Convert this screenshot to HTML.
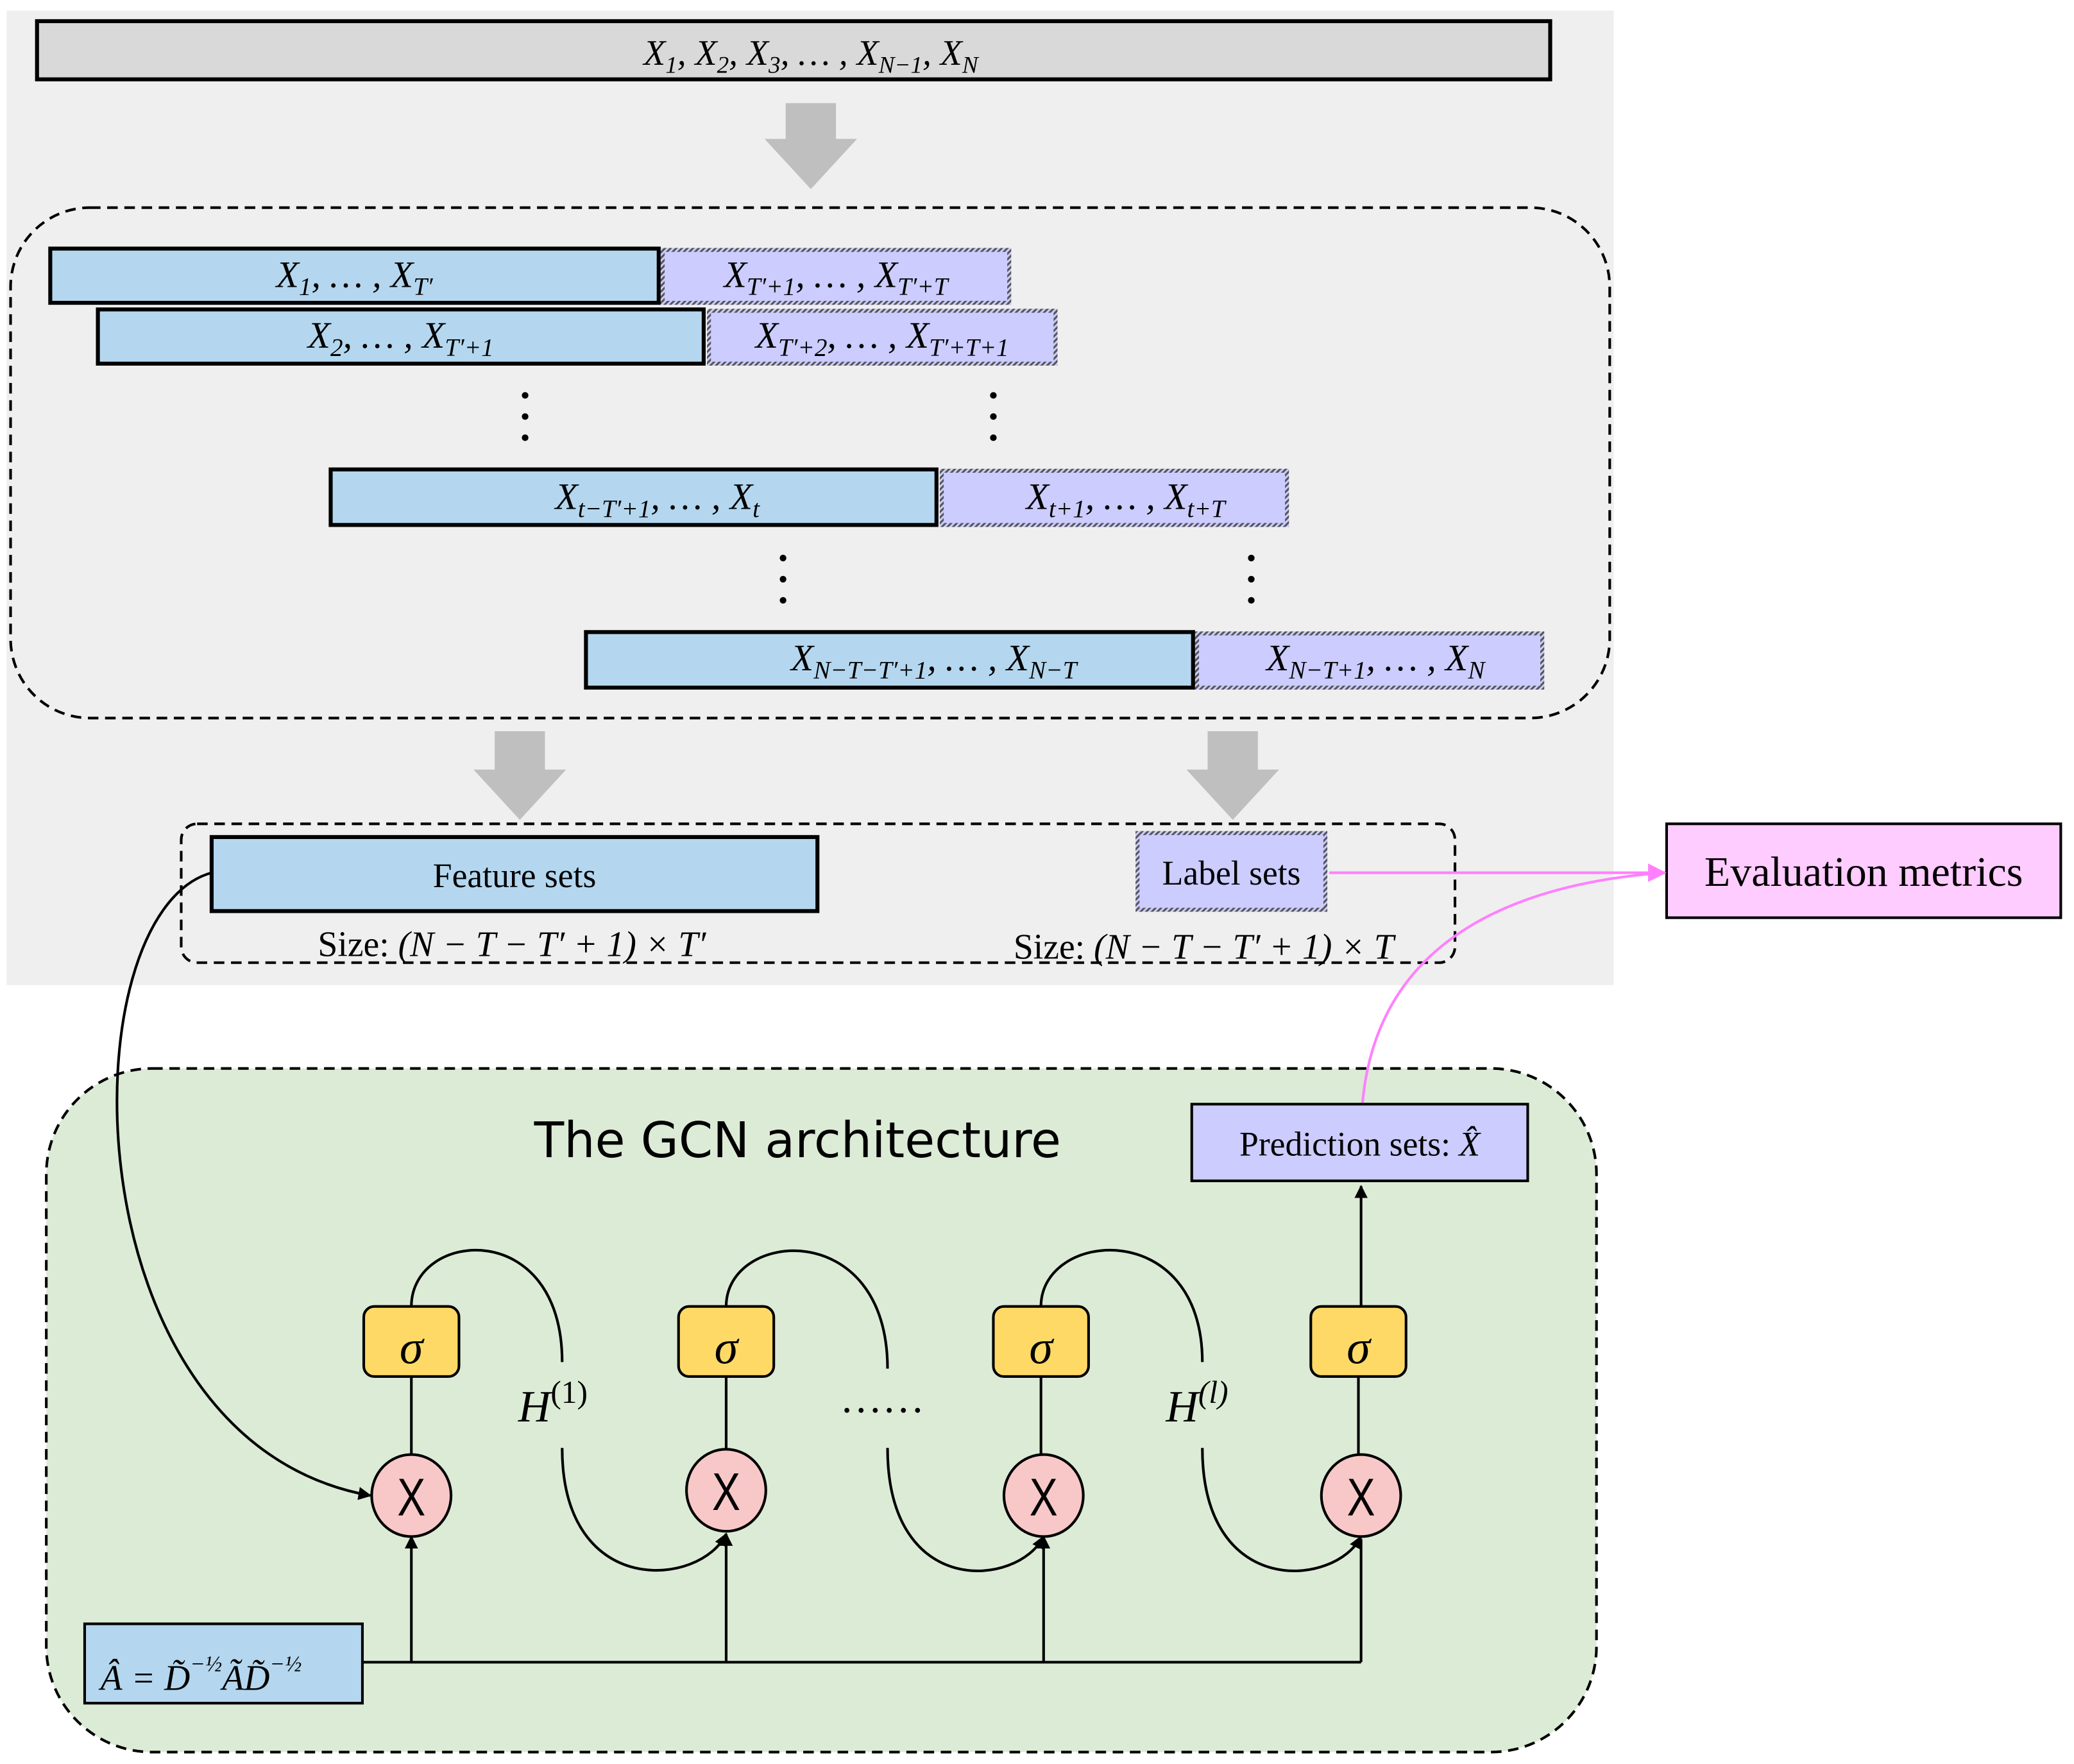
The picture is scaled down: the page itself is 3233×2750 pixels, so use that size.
<!DOCTYPE html>
<html><head><meta charset="utf-8"><style>
html,body{margin:0;padding:0;background:#fff;}
svg{display:block;}
.m{font-family:"Liberation Serif",serif;font-style:italic;}
.s{font-family:"Liberation Serif",serif;}
</style></head><body>
<svg width="3233" height="2750" viewBox="0 0 1568 1334" preserveAspectRatio="none" xmlns="http://www.w3.org/2000/svg">
<defs>
<pattern id="h" width="3" height="3" patternUnits="userSpaceOnUse" patternTransform="rotate(45)"><rect width="3" height="3" fill="#555"/><rect width="1.5" height="3" fill="#ccf"/></pattern>
<marker id="a" markerWidth="10" markerHeight="10" refX="9" refY="5" orient="auto" markerUnits="userSpaceOnUse"><path d="M0,0 L10,5 L0,10 z" fill="#000"/></marker>
<marker id="p" markerWidth="14" markerHeight="14" refX="13" refY="7" orient="auto" markerUnits="userSpaceOnUse"><path d="M0,0 L14,7 L0,14 z" fill="#ff80ff"/></marker>
</defs>
<rect width="1568" height="1334" fill="#fff"/>
<rect x="5" y="8" width="1215" height="737" fill="#efefef"/>
<rect x="28" y="16" width="1144" height="44" fill="#d9d9d9" stroke="#000" stroke-width="3"/>
<text x="613" y="49" text-anchor="middle" class="m" font-size="27">X<tspan font-size="18" dy="6">1</tspan><tspan dy="-6">, X</tspan><tspan font-size="18" dy="6">2</tspan><tspan dy="-6">, X</tspan><tspan font-size="18" dy="6">3</tspan><tspan dy="-6">, … , X</tspan><tspan font-size="18" dy="6">N−1</tspan><tspan dy="-6">, X</tspan><tspan font-size="18" dy="6">N</tspan></text>
<g fill="#bfbfbf">
<path d="M594,78 H632 V105 H648 L613,143 L578,105 H594 Z"/>
<path d="M374,553 H412 V582 H428 L393,620 L358,582 H374 Z"/>
<path d="M913,553 H951 V582 H967 L932,620 L897,582 H913 Z"/>
</g>
<rect x="8" y="157" width="1209" height="386" rx="60" fill="none" stroke="#000" stroke-width="2" stroke-dasharray="8,5"/>
<g stroke="#000" stroke-width="3" fill="#b4d7ef">
<rect x="38" y="188" width="460" height="41"/>
<rect x="74" y="234" width="458" height="41"/>
<rect x="250" y="355" width="458" height="42"/>
<rect x="443" y="478" width="459" height="42"/>
</g>
<g fill="#ccf" stroke="url(#h)" stroke-width="3">
<rect x="501" y="189" width="262" height="40"/>
<rect x="536" y="235" width="262" height="40"/>
<rect x="712" y="356" width="261" height="41"/>
<rect x="905" y="479" width="261" height="41"/>
</g>
<g class="m" font-size="28" text-anchor="middle">
<text x="268" y="217">X<tspan font-size="19" dy="6">1</tspan><tspan dy="-6">, … , X</tspan><tspan font-size="19" dy="6">T′</tspan></text>
<text x="632" y="217">X<tspan font-size="19" dy="6">T′+1</tspan><tspan dy="-6">, … , X</tspan><tspan font-size="19" dy="6">T′+T</tspan></text>
<text x="303" y="263">X<tspan font-size="19" dy="6">2</tspan><tspan dy="-6">, … , X</tspan><tspan font-size="19" dy="6">T′+1</tspan></text>
<text x="667" y="263">X<tspan font-size="19" dy="6">T′+2</tspan><tspan dy="-6">, … , X</tspan><tspan font-size="19" dy="6">T′+T+1</tspan></text>
<text x="497" y="385">X<tspan font-size="19" dy="6">t−T′+1</tspan><tspan dy="-6">, … , X</tspan><tspan font-size="19" dy="6">t</tspan></text>
<text x="851" y="385">X<tspan font-size="19" dy="6">t+1</tspan><tspan dy="-6">, … , X</tspan><tspan font-size="19" dy="6">t+T</tspan></text>
<text x="706" y="507">X<tspan font-size="19" dy="6">N−T−T′+1</tspan><tspan dy="-6">, … , X</tspan><tspan font-size="19" dy="6">N−T</tspan></text>
<text x="1040" y="507">X<tspan font-size="19" dy="6">N−T+1</tspan><tspan dy="-6">, … , X</tspan><tspan font-size="19" dy="6">N</tspan></text>
</g>
<g fill="#000">
<circle cx="397" cy="299" r="2.5"/><circle cx="397" cy="315" r="2.5"/><circle cx="397" cy="331" r="2.5"/>
<circle cx="751" cy="299" r="2.5"/><circle cx="751" cy="315" r="2.5"/><circle cx="751" cy="331" r="2.5"/>
<circle cx="592" cy="422" r="2.5"/><circle cx="592" cy="438" r="2.5"/><circle cx="592" cy="454" r="2.5"/>
<circle cx="946" cy="422" r="2.5"/><circle cx="946" cy="438" r="2.5"/><circle cx="946" cy="454" r="2.5"/>
</g>
<rect x="137" y="623" width="963" height="105" rx="12" fill="none" stroke="#000" stroke-width="2" stroke-dasharray="8,5"/>
<rect x="160" y="633" width="458" height="56" fill="#b4d7ef" stroke="#000" stroke-width="3"/>
<text x="389" y="671" text-anchor="middle" class="s" font-size="26">Feature sets</text>
<rect x="860" y="630" width="142" height="58" fill="#ccf" stroke="url(#h)" stroke-width="3"/>
<text x="931" y="669" text-anchor="middle" class="s" font-size="26">Label sets</text>
<text x="387" y="723" text-anchor="middle" class="s" font-size="27">Size: <tspan font-style="italic">(N − T − T′ + 1) × T′</tspan></text>
<text x="910" y="725" text-anchor="middle" class="s" font-size="27">Size: <tspan font-style="italic">(N − T − T′ + 1) × T</tspan></text>
<rect x="1260" y="623" width="298" height="71" fill="#fcf" stroke="#000" stroke-width="2"/>
<text x="1409" y="670" text-anchor="middle" class="s" font-size="32">Evaluation metrics</text>
<path d="M1005,660 H1259" stroke="#ff80ff" stroke-width="2" fill="none" marker-end="url(#p)"/>
<rect x="35" y="808" width="1172" height="517" rx="80" fill="#dcebd6" stroke="#000" stroke-width="2" stroke-dasharray="8,5"/>
<path d="M1030,835 C1040,720 1130,670 1257,660" stroke="#ff80ff" stroke-width="2" fill="none"/>
<text x="603" y="875" text-anchor="middle" font-family="DejaVu Sans,Liberation Sans,sans-serif" font-size="37">The GCN architecture</text>
<rect x="901" y="835" width="254" height="58" fill="#ccf" stroke="#000" stroke-width="2"/>
<text x="1028" y="874" text-anchor="middle" class="s" font-size="26">Prediction sets: <tspan font-style="italic">X̂</tspan></text>
<path d="M1029,988 V897" stroke="#000" stroke-width="2" fill="none" marker-end="url(#a)"/>
<g stroke="#000" stroke-width="2" fill="none">
<path d="M160,660 C50,690 50,1090 280,1131" marker-end="url(#a)"/>
<path d="M311,988 C311,930 425,920 425,1030"/>
<path d="M425,1095 C425,1210 530,1200 549,1160" marker-end="url(#a)"/>
<path d="M549,988 C549,930 671,920 671,1035"/>
<path d="M671,1095 C671,1210 770,1200 789,1162" marker-end="url(#a)"/>
<path d="M787,988 C787,930 909,920 909,1030"/>
<path d="M909,1095 C909,1210 1010,1200 1029,1162" marker-end="url(#a)"/>
<path d="M274,1257 H1029"/>
<path d="M311,1257 V1162" marker-end="url(#a)"/>
<path d="M549,1257 V1160" marker-end="url(#a)"/>
<path d="M789,1257 V1162" marker-end="url(#a)"/>
<path d="M1029,1257 V1164"/>
<path d="M311,1041 V1101"/><path d="M549,1041 V1097"/><path d="M787,1041 V1101"/><path d="M1027,1041 V1101"/>
</g>
<g stroke="#000" stroke-width="2">
<rect x="275" y="988" width="72" height="53" rx="8" fill="#ffd966"/>
<rect x="513" y="988" width="72" height="53" rx="8" fill="#ffd966"/>
<rect x="751" y="988" width="72" height="53" rx="8" fill="#ffd966"/>
<rect x="991" y="988" width="72" height="53" rx="8" fill="#ffd966"/>
<ellipse cx="311" cy="1131" rx="30" ry="31" fill="#f8c8c8"/>
<ellipse cx="549" cy="1127" rx="30" ry="31" fill="#f8c8c8"/>
<ellipse cx="789" cy="1131" rx="30" ry="31" fill="#f8c8c8"/>
<ellipse cx="1029" cy="1131" rx="30" ry="31" fill="#f8c8c8"/>
</g>
<g font-family="Liberation Sans,sans-serif" font-size="40" text-anchor="middle">
<text x="311" y="1146" transform="translate(311 0) scale(0.8 1) translate(-311 0)">X</text>
<text x="549" y="1142" transform="translate(549 0) scale(0.8 1) translate(-549 0)">X</text>
<text x="789" y="1146" transform="translate(789 0) scale(0.8 1) translate(-789 0)">X</text>
<text x="1029" y="1146" transform="translate(1029 0) scale(0.8 1) translate(-1029 0)">X</text>
</g>
<g class="m" font-size="36" text-anchor="middle">
<text x="311" y="1031">σ</text><text x="549" y="1031">σ</text><text x="787" y="1031">σ</text><text x="1027" y="1031">σ</text>
</g>
<text x="418" y="1075" text-anchor="middle" class="m" font-size="34">H<tspan font-size="24" dy="-14" font-style="normal">(1)</tspan></text>
<text x="905" y="1075" text-anchor="middle" class="m" font-size="34">H<tspan font-size="24" dy="-14">(l)</tspan></text>
<text x="667" y="1068" text-anchor="middle" class="s" font-size="32">……</text>
<rect x="64" y="1228" width="210" height="60" fill="#b4d7ef" stroke="#000" stroke-width="2"/>
<text x="76" y="1278" class="m" font-size="27">Â = D̃<tspan font-size="17" dy="-14">−½</tspan><tspan dy="14">ÃD̃</tspan><tspan font-size="17" dy="-14">−½</tspan></text>
</svg>
</body></html>
